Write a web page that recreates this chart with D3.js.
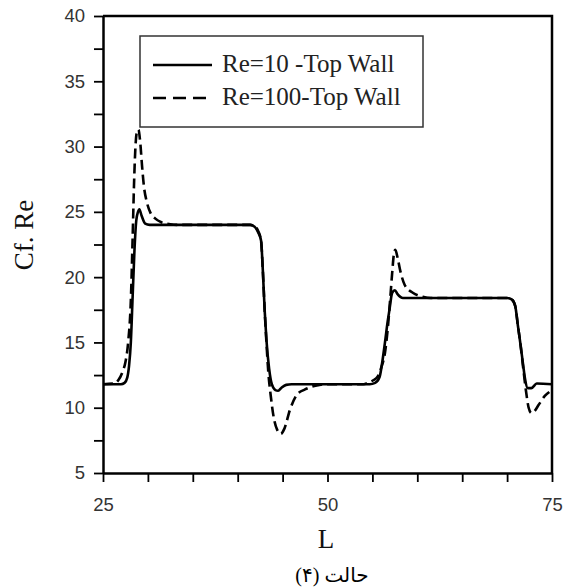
<!DOCTYPE html>
<html>
<head>
<meta charset="utf-8">
<script src="https://cdn.jsdelivr.net/npm/d3@7"></script>
<style>
  html, body { margin: 0; padding: 0; background: #fff; }
  svg { display: block; }
</style>
</head>
<body>
<svg id="chart" width="566" height="588"></svg>
<script>
// Skin-friction coefficient along the top wall, two Reynolds numbers
const seriesNames = ["Re=10 -Top Wall", "Re=100-Top Wall"];

const re10L = [25, 27.0, 27.4, 27.7, 27.9, 28.1, 28.3, 28.5, 28.7, 28.9, 29.05, 29.3, 29.7, 30.2,
  41.4, 41.9, 42.3, 42.6, 42.8, 43.0, 43.2, 43.5, 43.8, 44.2, 44.5, 44.9, 45.4, 46.0,
  54.7, 55.3, 55.8, 56.1, 56.4, 56.7, 56.9, 57.2, 57.5, 57.8, 58.4,
  70.0, 70.5, 70.9, 71.2, 71.5, 71.8, 72.0, 72.3, 72.7, 73.3, 75];
const re10V = [11.8, 11.8, 11.9, 12.3, 13.2, 15.0, 18.5, 22.0, 24.3, 25.0, 25.2, 24.7, 24.1, 24.0,
  24.0, 23.85, 23.4, 22.8, 20.5, 17.5, 15.2, 13.0, 11.8, 11.35, 11.3, 11.55, 11.75, 11.8,
  11.8, 11.9, 12.35, 13.5, 15.0, 16.6, 17.5, 18.8, 19.0, 18.7, 18.4,
  18.4, 18.3, 17.8, 16.3, 14.8, 13.2, 12.2, 11.5, 11.5, 11.85, 11.8];

const re100L = [25, 26.2, 26.7, 27.2, 27.5, 27.8, 28.1, 28.3, 28.45, 28.6, 28.8, 28.95, 29.15, 29.35,
  29.55, 29.9, 30.3, 30.8, 31.5, 32.5, 33.5,
  41.4, 41.9, 42.3, 42.6, 42.8, 43.0, 43.2, 43.4, 43.7, 44.0, 44.4, 44.8, 45.2, 45.8, 46.6,
  47.5, 48.8, 50.0, 54.0, 54.5, 55.1, 55.6, 56.0, 56.4, 56.7, 57.0, 57.2, 57.4, 57.55, 57.8,
  58.1, 58.6, 59.5, 60.6, 61.5,
  70.0, 70.5, 70.9, 71.2, 71.5, 71.8, 72.1, 72.4, 72.7, 73.0, 73.5, 74.2, 74.7];
const re100V = [11.8, 11.85, 12.1, 12.8, 13.5, 15.0, 18.2, 23.0, 27.0, 29.8, 31.2, 31.3, 30.3, 28.5,
  27.0, 25.7, 24.9, 24.5, 24.2, 24.05, 24.0,
  24.0, 23.9, 23.5, 22.8, 20.5, 17.5, 15.0, 12.8, 10.8, 9.3, 8.3, 8.0, 8.4, 9.8, 11.0,
  11.4, 11.7, 11.8, 11.8, 11.9, 12.1, 12.4, 13.1, 14.2, 16.0, 18.5, 20.3, 21.8, 22.1, 21.5,
  20.5, 19.4, 18.8, 18.5, 18.4,
  18.4, 18.3, 17.8, 16.3, 14.8, 13.0, 11.3, 10.0, 9.6, 9.7, 10.2, 10.9, 11.2];

const xTicks = [25, 30, 35, 40, 45, 50, 55, 60, 65, 70, 75];
const xLabels = [25, 50, 75];
const yTicks = [5, 7.5, 10, 12.5, 15, 17.5, 20, 22.5, 25, 27.5, 30, 32.5, 35, 37.5, 40];
const yLabels = [5, 10, 15, 20, 25, 30, 35, 40];

const xTitle = "L";
const yTitle = "Cf. Re";
const caption = "حالت (۴)";

// Layout
const plotLeft = 103, plotRight = 552, plotTop = 16, plotBottom = 473;
const svg = d3.select("#chart");

const x = d3.scaleLinear().domain([25, 75]).range([plotLeft, plotRight]);
const y = d3.scaleLinear().domain([5, 40]).range([plotBottom, plotTop]);

const tickFont = "'Liberation Sans', Arial, sans-serif";
const serif = "'Liberation Serif', 'Times New Roman', serif";

// Plot frame (top and right edges)
svg.append("path")
  .attr("d", `M${plotLeft},${plotTop}H${plotRight}V${plotBottom}`)
  .attr("fill", "none").attr("stroke", "#000").attr("stroke-width", 2.5);

// Axes
const xAxis = d3.axisBottom(x)
  .tickValues(xTicks)
  .tickSize(9).tickSizeOuter(0).tickPadding(16)
  .tickFormat(d => xLabels.includes(d) ? d : "");
const yAxis = d3.axisLeft(y)
  .tickValues(yTicks)
  .tickSize(9).tickSizeOuter(0).tickPadding(9)
  .tickFormat(d => yLabels.includes(d) ? d : "");

function styleAxis(g) {
  g.select(".domain").attr("stroke", "#000").attr("stroke-width", 2.5);
  g.selectAll(".tick line").attr("stroke", "#000").attr("stroke-width", 1.8);
  g.selectAll(".tick text")
    .attr("font-family", tickFont).attr("font-size", 18.5).attr("fill", "#333");
}

svg.append("g").attr("transform", `translate(0,${plotBottom})`).call(xAxis).call(styleAxis);
svg.append("g").attr("transform", `translate(${plotLeft},0)`).call(yAxis).call(styleAxis);

// Curves
const line = d3.line()
  .x(d => x(d[0])).y(d => y(d[1]))
  .curve(d3.curveMonotoneX);

const re10 = re10L.map((l, i) => [l, re10V[i]]);
const re100 = re100L.map((l, i) => [l, re100V[i]]);

svg.append("path").datum(re100)
  .attr("d", line).attr("fill", "none")
  .attr("stroke", "#000").attr("stroke-width", 2.6)
  .attr("stroke-dasharray", "10,5");

svg.append("path").datum(re10)
  .attr("d", line).attr("fill", "none")
  .attr("stroke", "#000").attr("stroke-width", 2.6)
  .attr("stroke-linejoin", "round");

// Legend
const legend = svg.append("g");
legend.append("rect")
  .attr("x", 140).attr("y", 36).attr("width", 283).attr("height", 91)
  .attr("fill", "#fff").attr("stroke", "#333").attr("stroke-width", 1.5);

const legendRows = [
  { name: seriesNames[0], dash: null, y: 65 },
  { name: seriesNames[1], dash: "13,7", y: 98 }
];
legendRows.forEach(r => {
  legend.append("line")
    .attr("x1", 153).attr("x2", 212).attr("y1", r.y).attr("y2", r.y)
    .attr("stroke", "#000").attr("stroke-width", 2.6)
    .attr("stroke-dasharray", r.dash);
  legend.append("text")
    .attr("x", 222).attr("y", r.y + 7)
    .attr("font-family", serif).attr("font-size", 25).attr("fill", "#222")
    .text(r.name);
});

// Axis titles
svg.append("text")
  .attr("x", 326).attr("y", 548)
  .attr("text-anchor", "middle")
  .attr("font-family", serif).attr("font-size", 27).attr("fill", "#111")
  .text(xTitle);

svg.append("text")
  .attr("transform", "translate(33,235) rotate(-90)")
  .attr("text-anchor", "middle")
  .attr("font-family", serif).attr("font-size", 27).attr("fill", "#111")
  .text(yTitle);

// Caption
svg.append("text")
  .attr("x", 332).attr("y", 582)
  .attr("text-anchor", "middle")
  .attr("direction", "rtl")
  .attr("font-family", "'Liberation Serif', 'DejaVu Serif', 'DejaVu Sans', serif")
  .attr("font-size", 20).attr("fill", "#000")
  .text(caption);
</script>
</body>
</html>
